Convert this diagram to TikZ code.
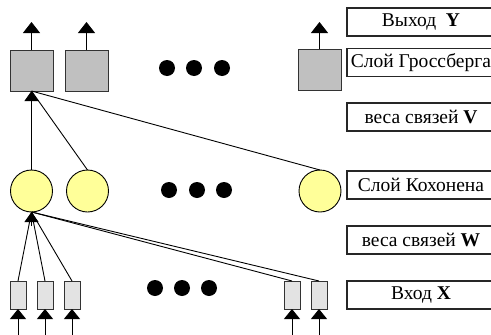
\documentclass[tikz,border=0pt]{standalone}
\usepackage{fontspec}
\setmainfont{Liberation Serif}
\usetikzlibrary{arrows.meta}
\definecolor{grossgray}{HTML}{C0C0C0}
\definecolor{kohyellow}{HTML}{FFFF99}
\definecolor{ingray}{HTML}{E3E3E3}
\begin{document}
\begin{tikzpicture}[x=1pt,y=-1pt,
  every node/.style={inner sep=0pt,outer sep=0pt},
  gsq/.style={draw=black!80,line width=1pt,fill=grossgray,minimum width=43pt,minimum height=41pt},
  kcirc/.style={circle,draw=black,line width=0.9pt,fill=kohyellow,minimum size=42pt},
  inrect/.style={draw=black!80,line width=0.9pt,fill=ingray,minimum width=16pt,minimum height=28pt},
  lbl/.style={draw=black!85,line width=1.1pt,fill=white,minimum width=148pt,minimum height=28pt,font=\fontsize{19.5}{22}\selectfont},
  bigdot/.style={circle,fill=black,minimum size=16pt},
  conn/.style={line width=0.9pt},
  outarr/.style={line width=0.9pt,-{Triangle[width=17pt,length=11pt]}},
  inarr/.style={line width=0.9pt,-{Triangle[width=16pt,length=10pt]}},
  midarr/.style={line width=0.9pt,-{Triangle[width=14pt,length=10pt]}}]
\useasboundingbox[fill=white] (0,0) rectangle (491,335);
\begin{scope}
\clip (0,0) rectangle (491,335);
% labels
\node[lbl] (lY) at (421,22) {Выход\ \ \textbf{Y}};
\node[lbl] (lG) at (421,62.5) {Слой Гроссберга};
\node[lbl] (lV) at (421,117) {веса связей \textbf{V}};
\node[lbl] (lK) at (421,185) {Слой Кохонена};
\node[lbl] (lW) at (421,240) {веса связей \textbf{W}};
\node[lbl] (lX) at (421,295) {Вход \textbf{X}};
% Grossberg layer
\node[gsq] (g1) at (31.5,70.5) {};
\node[gsq] (g2) at (86.5,70.5) {};
\node[gsq] (g3) at (319.5,69.5) {};
\coordinate (o1) at (31.5,22);
\coordinate (o2) at (86.5,22);
\coordinate (o3) at (319.5,22);
\draw[outarr] (g1.north) -- (o1);
\draw[outarr] (g2.north) -- (o2);
\draw[outarr] (g3.north) -- (o3);
\node[bigdot] (d1) at (167,68) {};
\node[bigdot] (d2) at (194,68) {};
\node[bigdot] (d3) at (222,68) {};
% Kohonen layer
\node[kcirc] (c1) at (31.5,191) {};
\node[kcirc] (c2) at (87.5,191) {};
\node[kcirc] (c3) at (320,191) {};
\draw[midarr] (c1.north) -- (g1.south);
\draw[conn] (c2.north) -- (g1.south);
\draw[conn] (c3.north) -- (g1.south);
\node[bigdot] (e1) at (169,190) {};
\node[bigdot] (e2) at (197,190) {};
\node[bigdot] (e3) at (224,190) {};
% input layer
\node[inrect] (x1) at (18,295) {};
\node[inrect] (x2) at (45,295) {};
\node[inrect] (x3) at (72,295) {};
\node[inrect] (x4) at (292,295) {};
\node[inrect] (x5) at (319,295) {};
\coordinate (k0) at (31.5,226);
\draw[midarr] (k0) -- (c1.south);
\foreach \i in {1,...,5} \draw[conn] (x\i.north) -- (c1.south);
\foreach \i/\xx in {1/18,2/45,3/72,4/292,5/319} {
  \coordinate (b\i) at (\xx,340);
  \draw[inarr] (b\i) -- (x\i.south);
}
\node[bigdot] (f1) at (155,288) {};
\node[bigdot] (f2) at (182,288) {};
\node[bigdot] (f3) at (209,288) {};
\end{scope}
\end{tikzpicture}
\end{document}
